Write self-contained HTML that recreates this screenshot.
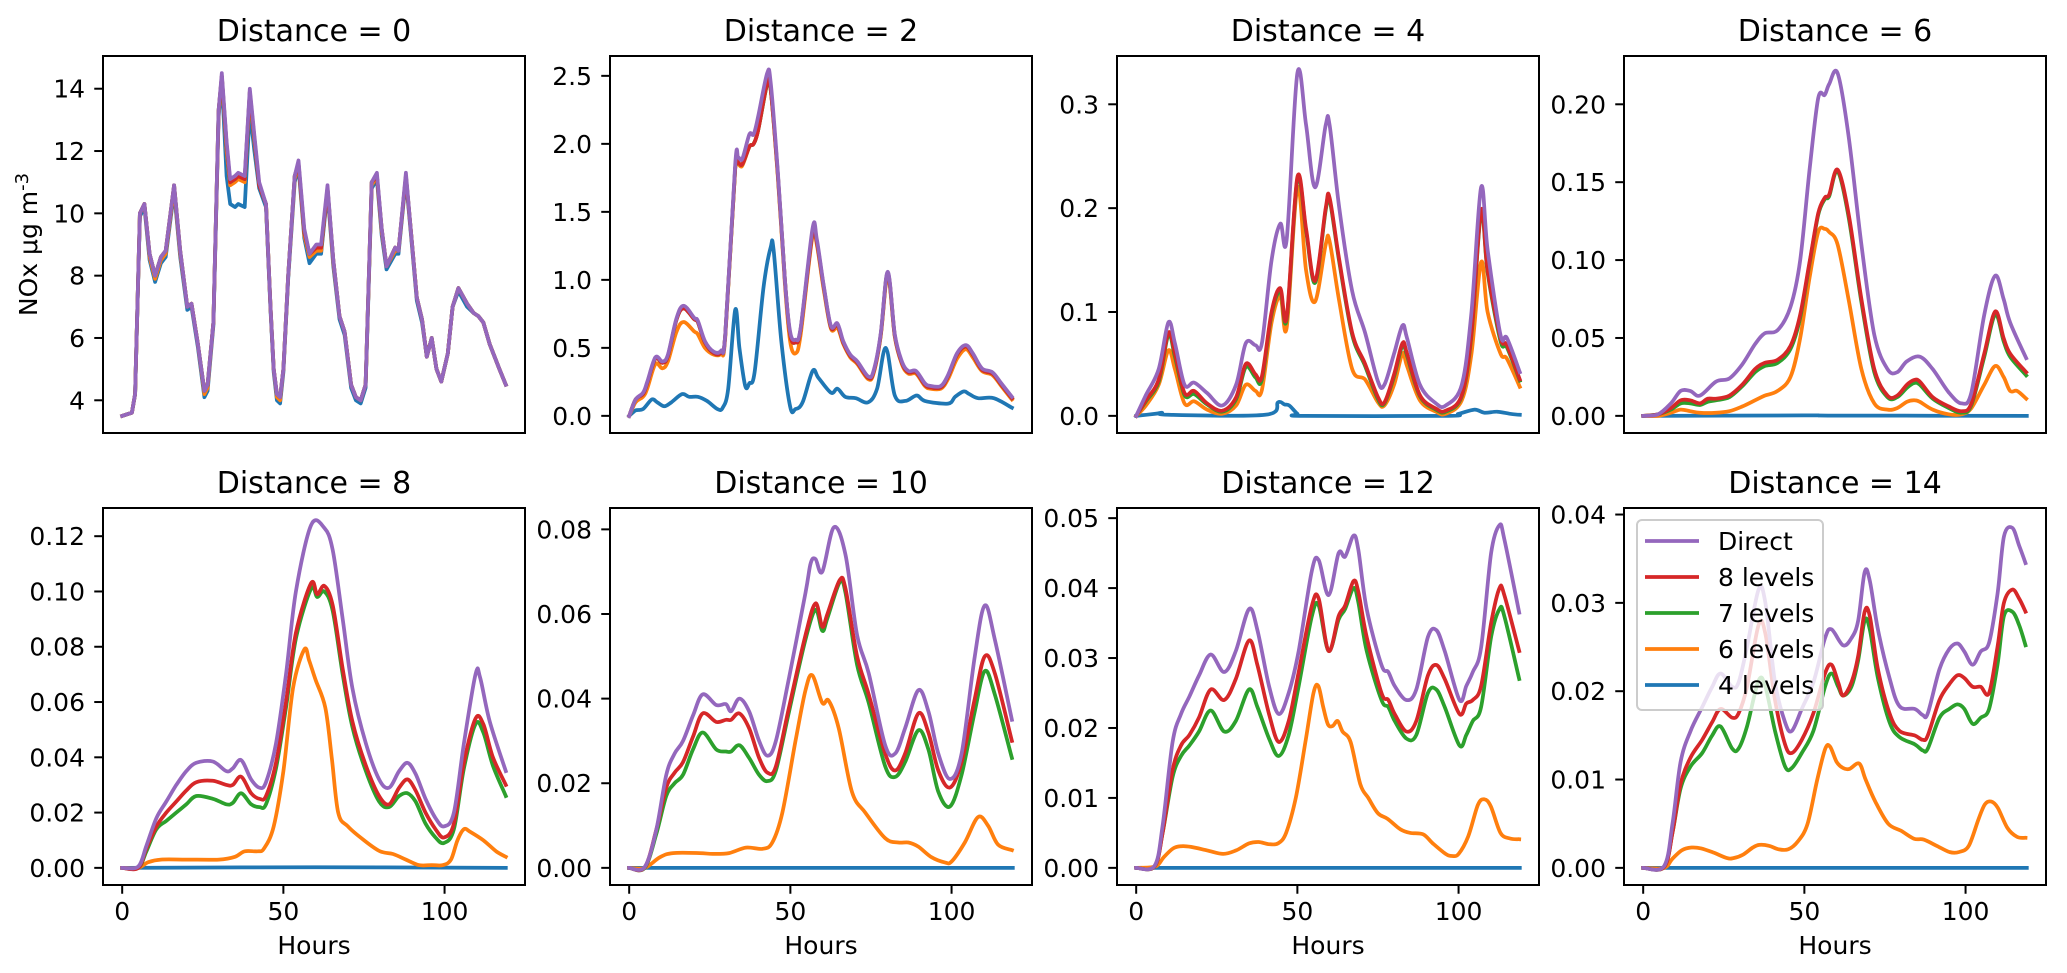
<!DOCTYPE html>
<html><head><meta charset="utf-8">
<style>
html,body{margin:0;padding:0;background:#fff;}
svg{display:block;font-family:"DejaVu Sans","Liberation Sans",sans-serif;}
</style></head>
<body>
<svg id="fig" width="2067" height="973" viewBox="0 0 2067 973" xmlns="http://www.w3.org/2000/svg">
<rect x="0" y="0" width="2067" height="973" fill="#fff"/>
<text transform="translate(37,244.5) rotate(-90)" text-anchor="middle" font-size="25">NOx μg m<tspan dy="-9" font-size="18">-3</tspan></text>
</svg>
<script>
// ---------- data ----------
const panelTitles = ["Distance = 0","Distance = 2","Distance = 4","Distance = 6","Distance = 8","Distance = 10","Distance = 12","Distance = 14"];
const seriesNames = ["Direct","8 levels","7 levels","6 levels","4 levels"];
const yLimits = [[2.95,15.05],[-0.126,2.646],[-0.0165,0.3465],[-0.011,0.231],[-0.0062,0.1302],[-0.00405,0.08505],[-0.00245,0.05145],[-0.00194,0.04074]];
const yTicks = [[4,6,8,10,12,14],[0,0.5,1,1.5,2,2.5],[0,0.1,0.2,0.3],[0,0.05,0.1,0.15,0.2],[0,0.02,0.04,0.06,0.08,0.1,0.12],[0,0.02,0.04,0.06,0.08],[0,0.01,0.02,0.03,0.04,0.05],[0,0.01,0.02,0.03,0.04]];
const yTickLabels = [["4","6","8","10","12","14"],["0.0","0.5","1.0","1.5","2.0","2.5"],["0.0","0.1","0.2","0.3"],["0.00","0.05","0.10","0.15","0.20"],["0.00","0.02","0.04","0.06","0.08","0.10","0.12"],["0.00","0.02","0.04","0.06","0.08"],["0.00","0.01","0.02","0.03","0.04","0.05"],["0.00","0.01","0.02","0.03","0.04"]];
const xTicks = [0,50,100];
const xTickLabels = ["0","50","100"];
const xLimit = [-5.95,124.95];

// Distance 0
const d0_hours = [0,3,4,5.5,6.9,8.5,10.2,12,13.5,16.1,18,20.2,21.5,23.5,25.5,26.5,28.3,29.9,30.9,32.4,33.5,35,36,38,39.6,41,42.5,44.6,46,47,48,49,50,51.5,53.5,54.7,56.5,58.1,60.2,61.7,63.7,65.5,67.4,69,71,72.5,74,75.5,77.4,79,80.5,82,84.7,85.7,88,89.5,91.4,93,94.5,96,97.5,99,101,102.5,104.3,107,109,110.5,112,114,117,119];
const d0_direct = [3.5,3.6,4.2,10.0,10.3,8.7,8.0,8.6,8.8,10.9,8.8,7.0,7.1,5.8,4.3,4.5,6.5,13.3,14.5,12.3,11.1,11.2,11.3,11.2,14.0,12.5,11.0,10.3,7.0,5.0,4.2,4.1,5.0,8.0,11.2,11.7,9.5,8.7,9.0,9.0,10.9,8.5,6.7,6.2,4.5,4.1,4.0,4.5,11.0,11.3,9.5,8.3,8.9,8.8,11.3,9.5,7.3,6.6,5.4,6.0,5.0,4.6,5.5,7.0,7.6,7.1,6.8,6.7,6.5,5.8,5.0,4.5];
const d0_l8 = [3.5,3.6,4.2,10.0,10.3,8.7,8.0,8.6,8.8,10.9,8.8,7.0,7.1,5.8,4.3,4.5,6.5,13.3,14.4,12.2,11.0,11.1,11.2,11.1,13.9,12.4,10.9,10.3,7.0,5.0,4.2,4.1,5.0,8.0,11.2,11.6,9.4,8.7,8.9,8.9,10.8,8.5,6.7,6.2,4.5,4.1,4.0,4.5,11.0,11.2,9.5,8.3,8.9,8.8,11.2,9.5,7.3,6.6,5.4,6.0,5.0,4.6,5.5,7.0,7.6,7.1,6.8,6.7,6.5,5.8,5.0,4.5];
const d0_l7 = [3.5,3.6,4.2,10.0,10.3,8.7,8.0,8.6,8.8,10.9,8.8,7.0,7.1,5.8,4.3,4.5,6.5,13.3,14.4,12.2,11.0,11.1,11.2,11.1,13.9,12.4,10.9,10.3,7.0,5.0,4.2,4.1,5.0,8.0,11.2,11.6,9.4,8.7,8.9,8.9,10.8,8.5,6.7,6.2,4.5,4.1,4.0,4.5,11.0,11.2,9.5,8.3,8.9,8.8,11.2,9.5,7.3,6.6,5.4,6.0,5.0,4.6,5.5,7.0,7.6,7.1,6.8,6.7,6.5,5.8,5.0,4.5];
const d0_l6 = [3.5,3.6,4.2,10.0,10.3,8.6,7.9,8.5,8.7,10.8,8.7,7.0,7.1,5.8,4.2,4.4,6.5,13.2,14.4,12.0,10.9,11.0,11.1,11.0,13.8,12.3,10.9,10.3,7.0,5.0,4.1,4.0,5.0,8.0,11.1,11.6,9.3,8.6,8.8,8.8,10.8,8.4,6.7,6.2,4.5,4.1,4.0,4.5,10.9,11.2,9.4,8.3,8.8,8.8,11.2,9.5,7.3,6.6,5.4,6.0,5.0,4.6,5.5,7.0,7.6,7.1,6.8,6.7,6.5,5.8,5.0,4.5];
const d0_l4 = [3.5,3.6,4.2,9.9,10.2,8.5,7.8,8.4,8.6,10.7,8.6,6.9,7.0,5.7,4.1,4.3,6.4,13.1,14.3,11.2,10.3,10.2,10.3,10.2,13.3,12.0,10.8,10.2,6.9,4.9,4.0,3.9,4.9,7.9,11.0,11.5,9.2,8.4,8.7,8.7,10.7,8.3,6.6,6.1,4.4,4.0,3.9,4.4,10.8,11.1,9.3,8.2,8.7,8.7,11.1,9.4,7.2,6.5,5.4,6.0,5.0,4.6,5.5,7.0,7.5,7.0,6.8,6.7,6.5,5.8,5.0,4.5];

// Distance 2
const d2_direct = [[0,0],[2,0.12],[4.3,0.17],[5.6,0.25],[8.1,0.43],[10.3,0.40],[12,0.45],[14.7,0.72],[16.9,0.81],[20.2,0.72],[21.3,0.70],[23.5,0.55],[26.3,0.47],[28.5,0.48],[29.8,0.6],[32.9,1.85],[33.8,1.9],[35.1,1.89],[37.3,2.07],[38.6,2.07],[40,2.2],[42.8,2.52],[43.9,2.45],[46.1,1.8],[48.3,1.0],[49.9,0.62],[51.6,0.56],[53.2,0.65],[56.9,1.38],[58.2,1.3],[60.4,0.95],[62.6,0.66],[64.6,0.68],[66.4,0.55],[68.6,0.45],[70.8,0.4],[74.1,0.29],[75.8,0.33],[78,0.6],[80.2,1.06],[82.4,0.6],[84.6,0.4],[86.6,0.33],[89,0.33],[91.7,0.24],[93.4,0.22],[96.7,0.22],[98.9,0.3],[101.7,0.46],[104.4,0.52],[106.6,0.46],[109.4,0.35],[112.7,0.32],[115.4,0.24],[118.7,0.14]];
const d2_l8 = [[0,0],[2,0.12],[4.3,0.16],[5.6,0.24],[8.1,0.42],[10.3,0.39],[12,0.44],[14.7,0.71],[16.9,0.79],[20.2,0.71],[21.3,0.69],[23.5,0.54],[26.3,0.46],[28.5,0.47],[29.8,0.6],[32.9,1.82],[33.8,1.86],[35.1,1.85],[37.3,1.98],[38.6,2.0],[40,2.1],[42.8,2.45],[43.9,2.4],[46.1,1.78],[48.3,1.0],[49.9,0.6],[51.6,0.54],[53.2,0.64],[56.9,1.35],[58.2,1.28],[60.4,0.94],[62.6,0.65],[64.6,0.67],[66.4,0.54],[68.6,0.44],[70.8,0.39],[74.1,0.28],[75.8,0.32],[78,0.59],[80.2,1.05],[82.4,0.59],[84.6,0.39],[86.6,0.32],[89,0.32],[91.7,0.23],[93.4,0.21],[96.7,0.21],[98.9,0.29],[101.7,0.45],[104.4,0.51],[106.6,0.45],[109.4,0.34],[112.7,0.31],[115.4,0.23],[118.7,0.13]];
const d2_l7 = [[0,0],[2,0.12],[4.3,0.16],[5.6,0.24],[8.1,0.42],[10.3,0.39],[12,0.44],[14.7,0.71],[16.9,0.79],[20.2,0.71],[21.3,0.69],[23.5,0.54],[26.3,0.46],[28.5,0.47],[29.8,0.6],[32.9,1.82],[33.8,1.86],[35.1,1.85],[37.3,1.98],[38.6,2.0],[40,2.1],[42.8,2.44],[43.9,2.4],[46.1,1.78],[48.3,1.0],[49.9,0.6],[51.6,0.54],[53.2,0.64],[56.9,1.35],[58.2,1.28],[60.4,0.94],[62.6,0.65],[64.6,0.67],[66.4,0.54],[68.6,0.44],[70.8,0.39],[74.1,0.28],[75.8,0.32],[78,0.59],[80.2,1.05],[82.4,0.59],[84.6,0.39],[86.6,0.32],[89,0.32],[91.7,0.23],[93.4,0.21],[96.7,0.21],[98.9,0.29],[101.7,0.45],[104.4,0.51],[106.6,0.45],[109.4,0.34],[112.7,0.31],[115.4,0.23],[118.7,0.13]];
const d2_l6 = [[0,0],[2,0.1],[4.3,0.14],[5.6,0.2],[8.1,0.38],[10.3,0.35],[12,0.4],[14.7,0.62],[16.9,0.69],[20.2,0.62],[21.3,0.60],[23.5,0.5],[26.3,0.45],[28.5,0.46],[29.8,0.58],[32.9,1.82],[33.8,1.85],[35.1,1.84],[37.3,1.98],[38.6,2.0],[40,2.1],[42.8,2.44],[43.9,2.4],[46.1,1.76],[48.3,0.97],[49.9,0.55],[51.6,0.46],[53.2,0.6],[56.9,1.33],[58.2,1.26],[60.4,0.92],[62.6,0.64],[64.6,0.65],[66.4,0.53],[68.6,0.43],[70.8,0.38],[74.1,0.27],[75.8,0.31],[78,0.58],[80.2,1.03],[82.4,0.58],[84.6,0.38],[86.6,0.31],[89,0.31],[91.7,0.22],[93.4,0.2],[96.7,0.2],[98.9,0.27],[101.7,0.42],[104.4,0.49],[106.6,0.43],[109.4,0.33],[112.7,0.3],[115.4,0.22],[118.7,0.12]];
const d2_l4 = [[0,0],[2,0.04],[4.3,0.05],[7,0.12],[8.7,0.1],[10.9,0.07],[13.1,0.1],[16.4,0.16],[18.6,0.14],[21.3,0.14],[24.1,0.11],[27.4,0.05],[29,0.06],[30.7,0.2],[32.9,0.78],[34.2,0.5],[36,0.22],[37.3,0.24],[38.9,0.32],[41.7,0.95],[43.9,1.24],[44.8,1.22],[47.2,0.55],[49.9,0.07],[51.6,0.05],[53.8,0.1],[56.9,0.33],[58.7,0.28],[62.6,0.17],[64.6,0.2],[67,0.14],[70.3,0.13],[74.1,0.1],[76.9,0.2],[79.6,0.5],[82.4,0.15],[85.7,0.11],[89.2,0.15],[91.7,0.11],[98.9,0.09],[101.1,0.14],[103.8,0.18],[105.5,0.16],[108.2,0.13],[113.1,0.13],[118.7,0.06]];

// Distance 4
const d4_direct = [[0,0],[3,0.02],[7,0.045],[10,0.09],[12,0.07],[15,0.03],[18,0.032],[22,0.022],[26.7,0.01],[31,0.03],[34,0.07],[37,0.068],[39,0.07],[42,0.15],[44.7,0.185],[46.7,0.17],[50,0.33],[52.7,0.28],[55.5,0.22],[58.8,0.28],[60,0.28],[63,0.2],[67,0.12],[71,0.08],[75,0.033],[77,0.03],[80,0.06],[82.6,0.087],[84,0.075],[88,0.03],[93,0.012],[96,0.01],[101,0.03],[104,0.1],[107,0.22],[109,0.16],[113,0.078],[115,0.075],[119,0.042]];
const d4_l8 = [[0,0],[3,0.015],[7,0.035],[10,0.08],[12,0.06],[15,0.022],[18,0.024],[22,0.012],[26.7,0.005],[31,0.018],[34,0.05],[37,0.04],[39,0.038],[42,0.1],[44.7,0.123],[46.7,0.095],[50,0.23],[52.7,0.18],[55.5,0.13],[58.8,0.2],[60,0.21],[63,0.15],[67,0.08],[71,0.05],[75,0.018],[77,0.013],[80,0.04],[82.6,0.07],[84,0.06],[88,0.02],[93,0.007],[96,0.005],[101,0.02],[104,0.08],[107,0.198],[109,0.14],[113,0.075],[115,0.068],[119,0.035]];
const d4_l7 = [[0,0],[3,0.014],[7,0.033],[10,0.078],[12,0.057],[15,0.02],[18,0.021],[22,0.011],[26.7,0.004],[31,0.016],[34,0.047],[37,0.037],[39,0.035],[42,0.098],[44.7,0.12],[46.7,0.093],[50,0.228],[52.7,0.178],[55.5,0.128],[58.8,0.198],[60,0.208],[63,0.148],[67,0.078],[71,0.048],[75,0.016],[77,0.012],[80,0.038],[82.6,0.068],[84,0.058],[88,0.019],[93,0.006],[96,0.004],[101,0.019],[104,0.078],[107,0.196],[109,0.138],[113,0.072],[115,0.066],[119,0.034]];
const d4_l6 = [[0,0],[3,0.01],[7,0.03],[10,0.063],[12,0.045],[15,0.012],[18,0.014],[22,0.006],[26.7,0.002],[31,0.01],[34,0.03],[37,0.024],[39,0.025],[42,0.09],[44.7,0.115],[46.7,0.085],[50,0.22],[52.7,0.14],[55.5,0.11],[58.8,0.165],[60,0.168],[63,0.11],[67,0.045],[71,0.035],[75,0.013],[77,0.01],[80,0.03],[82.6,0.06],[84,0.048],[88,0.015],[93,0.004],[96,0.002],[101,0.015],[104,0.06],[107,0.148],[109,0.1],[113,0.06],[115,0.055],[119,0.028]];
const d4_l4 = [[0,0],[6,0.002],[8,0.003],[10,0.001],[40,0.001],[44,0.013],[46,0.011],[47.5,0.01],[50,0.002],[52,0],[96,0],[100,0.002],[105,0.006],[108,0.003],[112,0.004],[116,0.002],[119,0.001]];

// Distance 6
const d6_direct = [[0,0],[4.6,0.001],[8.6,0.008],[11.6,0.016],[14.6,0.016],[17.6,0.013],[22.6,0.022],[26.7,0.024],[30.7,0.033],[34.7,0.046],[37.7,0.053],[41.7,0.055],[45.7,0.07],[48.7,0.1],[51.7,0.16],[54.3,0.204],[56.3,0.206],[57.7,0.213],[60.3,0.22],[63.7,0.18],[67.7,0.11],[71.7,0.052],[75.8,0.03],[78.8,0.028],[81.8,0.035],[85.8,0.038],[89.8,0.03],[94.8,0.015],[98.8,0.008],[101.8,0.015],[105.8,0.065],[109.2,0.09],[111.8,0.075],[113.8,0.06],[118.8,0.037]];
const d6_l8 = [[0,0],[4.6,0.001],[8.6,0.005],[11.6,0.01],[14.6,0.01],[17.6,0.008],[20,0.011],[22.6,0.011],[26.7,0.013],[30.7,0.02],[34.7,0.03],[37.7,0.034],[41.7,0.036],[45.7,0.045],[48.7,0.065],[51.7,0.1],[54.3,0.13],[56.3,0.14],[57.7,0.142],[60.3,0.158],[63.7,0.13],[67.7,0.075],[71.7,0.03],[75.8,0.013],[78.8,0.013],[81.8,0.02],[84,0.023],[85.8,0.022],[89.8,0.012],[94.8,0.006],[98.8,0.003],[101.8,0.008],[105.8,0.04],[109.2,0.067],[111.8,0.05],[113.8,0.04],[118.8,0.028]];
const d6_l7 = [[0,0],[4.6,0.001],[8.6,0.004],[11.6,0.008],[14.6,0.008],[17.6,0.007],[20,0.009],[22.6,0.01],[26.7,0.012],[30.7,0.019],[34.7,0.028],[37.7,0.032],[41.7,0.034],[45.7,0.043],[48.7,0.063],[51.7,0.099],[54.3,0.129],[56.3,0.139],[57.7,0.141],[60.3,0.157],[63.7,0.128],[67.7,0.073],[71.7,0.028],[75.8,0.012],[78.8,0.012],[81.8,0.018],[84,0.021],[85.8,0.02],[89.8,0.011],[94.8,0.005],[98.8,0.002],[101.8,0.007],[105.8,0.038],[109.2,0.065],[111.8,0.048],[113.8,0.038],[118.8,0.026]];
const d6_l6 = [[0,0],[4.6,0],[8.6,0.002],[11.6,0.004],[14.6,0.003],[17.6,0.002],[22.6,0.002],[26.7,0.003],[30.7,0.006],[34.7,0.01],[37.7,0.013],[41.7,0.016],[45.7,0.025],[48.7,0.05],[51.7,0.09],[54.3,0.118],[56.3,0.12],[57.7,0.118],[60.3,0.11],[63.7,0.075],[67.7,0.03],[71.7,0.008],[75.8,0.004],[78.8,0.005],[81.8,0.009],[84,0.01],[85.8,0.009],[89.8,0.004],[94.8,0.001],[98.8,0.001],[101.8,0.005],[105.8,0.02],[109.2,0.032],[111.8,0.025],[113.8,0.016],[116,0.016],[118.8,0.011]];
const d6_l4 = [[0,0],[50,0.0003],[60,0.0002],[119,0]];

// Distance 8
const d8_direct = [[0,0],[5,0.0005],[7.5,0.008],[10.6,0.018],[13.7,0.024],[16.8,0.03],[19.9,0.035],[23,0.038],[28.1,0.0385],[32.3,0.035],[34.3,0.036],[36.9,0.039],[40,0.032],[42.6,0.029],[44.6,0.031],[47.7,0.045],[50.8,0.07],[53.9,0.1],[58.6,0.124],[62.7,0.123],[65.3,0.115],[68.4,0.09],[71.4,0.065],[75.6,0.045],[79.7,0.032],[82.8,0.029],[85.9,0.035],[88.5,0.038],[91,0.034],[94.1,0.025],[97.2,0.018],[99.8,0.015],[102.9,0.02],[106,0.045],[109.6,0.07],[111,0.069],[114,0.053],[119,0.035]];
const d8_l8 = [[0,0],[5,0],[7.5,0.007],[10.6,0.015],[13.7,0.02],[16.8,0.024],[19.9,0.028],[23,0.031],[28.1,0.0315],[32.3,0.03],[34.3,0.03],[36.9,0.033],[40,0.027],[42.6,0.025],[44.6,0.026],[47.7,0.038],[50.8,0.06],[53.9,0.085],[58.6,0.103],[60.5,0.099],[62.7,0.102],[65.3,0.095],[68.4,0.072],[71.4,0.053],[75.6,0.037],[79.7,0.026],[82.8,0.023],[85.9,0.029],[88.5,0.032],[91,0.028],[94.1,0.02],[97.2,0.014],[99.8,0.011],[102.9,0.016],[106,0.038],[109.6,0.054],[112,0.052],[115,0.04],[119,0.03]];
const d8_l7 = [[0,0],[5,0],[7.5,0.006],[10.6,0.014],[13.7,0.017],[16.8,0.02],[19.9,0.023],[23,0.026],[28.1,0.025],[32.3,0.023],[34.3,0.0235],[36.9,0.027],[40,0.023],[42.6,0.022],[44.6,0.023],[47.7,0.036],[50.8,0.058],[53.9,0.083],[58.6,0.101],[60.5,0.098],[62.7,0.1],[65.3,0.093],[68.4,0.07],[71.4,0.051],[75.6,0.035],[79.7,0.024],[82.8,0.022],[85.9,0.026],[88.5,0.027],[91,0.024],[94.1,0.016],[97.2,0.011],[99.8,0.009],[102.9,0.014],[106,0.036],[109.6,0.052],[112,0.049],[115,0.037],[119,0.026]];
const d8_l6 = [[0,0],[5,0],[8,0.002],[12,0.003],[20,0.003],[30,0.003],[35,0.004],[38,0.006],[42,0.006],[44,0.007],[47,0.015],[50,0.035],[53,0.065],[56.5,0.079],[58,0.075],[60,0.068],[63,0.058],[65,0.04],[67,0.02],[70,0.015],[75,0.01],[80,0.006],[84,0.005],[88,0.003],[92,0.001],[96,0.001],[99.5,0.001],[102,0.003],[104,0.01],[106,0.014],[108,0.013],[112,0.01],[116,0.006],[119,0.004]];
const d8_l4 = [[0,0],[60,0.0002],[119,0]];

// Distance 10
const d10_direct = [[0,0],[4.8,0.0002],[8.4,0.009],[11.5,0.022],[14.1,0.027],[16.7,0.03],[19.8,0.036],[22.8,0.041],[27,0.0385],[30,0.0387],[31.6,0.037],[34.2,0.04],[37.2,0.037],[40.3,0.03],[42.9,0.0265],[45.5,0.03],[49.6,0.045],[54.7,0.065],[56.3,0.072],[57.8,0.073],[59.9,0.07],[63.5,0.0805],[67.1,0.074],[70.7,0.055],[74.3,0.046],[79.4,0.029],[82.5,0.027],[85.6,0.033],[89.7,0.042],[92.8,0.037],[95.9,0.027],[99.5,0.021],[103.1,0.027],[107.2,0.05],[110.3,0.062],[113.4,0.054],[118.7,0.035]];
const d10_l8 = [[0,0],[4.8,0.0001],[8.4,0.009],[11.5,0.019],[14.1,0.0225],[16.7,0.025],[19.8,0.031],[22.8,0.0365],[27,0.0345],[30,0.035],[31.6,0.035],[34.2,0.0365],[37.2,0.033],[40.3,0.026],[42.9,0.0225],[45.5,0.024],[49.6,0.038],[54.7,0.055],[57.8,0.0625],[59.9,0.057],[61.5,0.06],[65.3,0.068],[67.1,0.066],[70.7,0.05],[74.3,0.041],[79.4,0.027],[82.5,0.023],[85.6,0.027],[89.7,0.0365],[92.8,0.032],[95.9,0.023],[99.5,0.019],[103.1,0.025],[107.2,0.04],[110.3,0.05],[113.4,0.046],[118.7,0.03]];
const d10_l7 = [[0,0],[4.8,0],[8.4,0.008],[11.5,0.017],[14.1,0.02],[16.7,0.022],[19.8,0.028],[22.8,0.032],[27,0.028],[30,0.0275],[31.6,0.0275],[34.2,0.029],[37.2,0.026],[40.3,0.022],[42.9,0.0205],[45.5,0.023],[49.6,0.037],[54.7,0.054],[57.8,0.061],[59.9,0.056],[61.5,0.059],[65.3,0.0675],[67.1,0.065],[70.7,0.048],[74.3,0.039],[79.4,0.024],[82.5,0.0215],[85.6,0.025],[89.7,0.0325],[92.8,0.028],[95.9,0.018],[99.5,0.0145],[103.1,0.022],[107.2,0.037],[110.3,0.0465],[113.4,0.041],[118.7,0.026]];
const d10_l6 = [[0,0],[4.8,0],[9.5,0.0025],[13.6,0.0035],[21.8,0.0035],[25.9,0.0033],[31,0.0035],[36.2,0.0048],[41.4,0.0045],[44.4,0.006],[47.5,0.013],[51.6,0.03],[54.7,0.042],[56.8,0.0455],[59.9,0.039],[61.9,0.0395],[65,0.033],[69.1,0.018],[73.3,0.013],[79.4,0.007],[83.5,0.006],[86.6,0.006],[89.7,0.005],[93.8,0.0025],[97.9,0.0013],[100,0.0015],[104.1,0.006],[108.2,0.012],[111.3,0.01],[114.4,0.0055],[118.7,0.0042]];
const d10_l4 = [[0,0],[119,0]];

// Distance 12
const d12_direct = [[0,0],[5.7,0.0003],[8.2,0.006],[11.3,0.018],[13.9,0.022],[16.5,0.0245],[19.5,0.0275],[23.1,0.0305],[27.3,0.028],[30.9,0.031],[35,0.037],[37.6,0.034],[41.2,0.026],[44.2,0.022],[47.3,0.025],[50.4,0.031],[54.5,0.0425],[56.6,0.044],[59.7,0.039],[62.8,0.045],[64.8,0.0445],[67.4,0.0475],[68.9,0.0455],[71.5,0.037],[76.1,0.029],[78.2,0.028],[80.2,0.026],[83.8,0.024],[86.9,0.0255],[90.5,0.033],[93.1,0.034],[95.7,0.031],[100.3,0.024],[102.4,0.026],[104.4,0.028],[107,0.0315],[110.1,0.045],[112.7,0.049],[114.2,0.047],[118.8,0.0365]];
const d12_l8 = [[0,0],[5.7,0.0002],[8.2,0.005],[11.3,0.014],[13.9,0.0175],[16.5,0.019],[19.5,0.0215],[23.1,0.0255],[27.3,0.024],[30.9,0.027],[35,0.0325],[37.6,0.029],[41.2,0.022],[44.2,0.018],[47.3,0.021],[50.4,0.028],[54.5,0.0375],[56.6,0.0385],[59.7,0.031],[62.8,0.036],[64.8,0.0375],[67.4,0.041],[68.9,0.0395],[71.5,0.033],[76.1,0.025],[78.2,0.024],[80.2,0.022],[83.8,0.0195],[86.9,0.021],[90.5,0.0275],[93.1,0.029],[95.7,0.027],[100.3,0.022],[102.4,0.0235],[104.4,0.024],[107,0.026],[110.1,0.035],[112.7,0.04],[114.2,0.039],[118.8,0.031]];
const d12_l7 = [[0,0],[5.7,0.0002],[8.2,0.005],[11.3,0.013],[13.9,0.016],[16.5,0.0175],[19.5,0.0195],[23.1,0.0225],[27.3,0.0195],[30.9,0.021],[35,0.0255],[37.6,0.023],[41.2,0.0185],[44.2,0.016],[47.3,0.019],[50.4,0.026],[54.5,0.036],[56.6,0.0375],[59.7,0.031],[62.8,0.0355],[64.8,0.037],[67.4,0.04],[68.9,0.038],[71.5,0.031],[76.1,0.024],[78.2,0.023],[80.2,0.021],[83.8,0.0185],[86.9,0.019],[90.5,0.025],[93.1,0.0255],[95.7,0.023],[100.3,0.0175],[102.4,0.019],[104.4,0.021],[107,0.023],[110.1,0.033],[112.7,0.037],[114.2,0.036],[118.8,0.027]];
const d12_l6 = [[0,0],[6,0.0002],[8.5,0.0015],[11.5,0.0028],[14,0.0031],[17,0.003],[22,0.0025],[27,0.002],[31,0.0025],[35,0.0035],[38,0.0037],[41,0.0034],[44,0.0035],[46.5,0.005],[49.5,0.01],[52.5,0.018],[55,0.025],[56.5,0.026],[58,0.023],[59.5,0.0205],[61,0.0203],[62.5,0.021],[64,0.0195],[66.5,0.018],[69.5,0.012],[72,0.01],[75,0.0078],[78,0.007],[82,0.0055],[85,0.005],[89,0.0048],[92,0.0035],[96,0.002],[98,0.0017],[100,0.002],[103,0.0045],[106,0.009],[108,0.0098],[110,0.0088],[113,0.005],[116,0.0042],[118.8,0.0041]];
const d12_l4 = [[0,0],[119,0]];

// Distance 14
const d14_direct = [[0,0],[6.5,0.0002],[9.1,0.005],[11.6,0.012],[14.7,0.0155],[18.3,0.0182],[21.4,0.0205],[24,0.022],[27.6,0.0205],[29.6,0.021],[32.2,0.025],[35.8,0.0315],[37.9,0.03],[40.9,0.021],[44,0.0165],[46.1,0.0155],[49.2,0.018],[52.8,0.021],[56.4,0.026],[58.4,0.027],[62,0.0252],[64.6,0.026],[66.7,0.028],[68.7,0.0335],[70.3,0.0325],[72.8,0.027],[76.4,0.0215],[79.5,0.0183],[84.2,0.018],[86.7,0.0173],[88.3,0.0175],[91.9,0.0225],[95,0.0248],[97.5,0.0254],[99.6,0.0245],[102.2,0.023],[104.7,0.0245],[107.3,0.0255],[109.9,0.031],[111.9,0.0375],[114.5,0.0385],[116.6,0.0365],[118.6,0.0345]];
const d14_l8 = [[0,0],[6.5,0.0001],[9.1,0.004],[11.6,0.0095],[14.7,0.0125],[18.3,0.0145],[21.4,0.0165],[24,0.018],[27.6,0.017],[29.6,0.0175],[32.2,0.0205],[35.8,0.0275],[37.9,0.0265],[40.9,0.019],[44,0.014],[46.1,0.013],[49.2,0.0145],[52.8,0.0175],[56.4,0.022],[58.4,0.023],[60.5,0.021],[62,0.0195],[64.6,0.021],[66.7,0.024],[68.7,0.029],[70.3,0.0285],[72.8,0.0225],[76.4,0.0175],[79.5,0.0155],[84.2,0.015],[86.7,0.0145],[88.3,0.015],[91.9,0.019],[95,0.0208],[97.5,0.0218],[99.6,0.0215],[102.2,0.0205],[104.7,0.0205],[107.3,0.0198],[109.9,0.025],[111.9,0.03],[114.5,0.0315],[116.6,0.0305],[118.6,0.029]];
const d14_l7 = [[0,0],[6.5,0.0001],[9.1,0.004],[11.6,0.009],[14.7,0.0115],[18.3,0.013],[21.4,0.015],[24,0.016],[27.6,0.0135],[29.6,0.0135],[32.2,0.016],[35.8,0.0212],[37.9,0.0205],[40.9,0.0155],[44,0.0115],[46.1,0.0113],[49.2,0.013],[52.8,0.0155],[56.4,0.0205],[58.4,0.022],[60.5,0.0205],[62,0.0195],[64.6,0.0205],[66.7,0.0235],[68.7,0.028],[70.3,0.027],[72.8,0.0215],[76.4,0.0165],[79.5,0.0148],[84.2,0.014],[86.7,0.0133],[88.3,0.0135],[91.9,0.017],[95,0.018],[97.5,0.0185],[99.6,0.018],[102.2,0.0163],[104.7,0.017],[107.3,0.018],[109.9,0.023],[111.9,0.0285],[114.5,0.029],[116.6,0.0275],[118.6,0.0252]];
const d14_l6 = [[0,0],[6.5,0],[9,0.001],[12,0.002],[15,0.0023],[18,0.0022],[22,0.0017],[26,0.0011],[28,0.0011],[31,0.0015],[34,0.0023],[36,0.0026],[39,0.0025],[42,0.0021],[45,0.0021],[48,0.003],[51,0.005],[54,0.01],[56.5,0.0135],[58,0.0137],[60,0.012],[62,0.0113],[64,0.0112],[67,0.0118],[69,0.01],[72,0.0075],[76,0.005],[80,0.0042],[84,0.0033],[87,0.0032],[91,0.0025],[95,0.0018],[98,0.0018],[101,0.0025],[104,0.0055],[106,0.0072],[108,0.0075],[110,0.0068],[113,0.0045],[116,0.0035],[118.6,0.0034]];
const d14_l4 = [[0,0],[119,0]];

// ---------- layout ----------
const panelLeft = [103,610,1117,1624];
const panelTop = [56,508];
const PW = 422, PH = 377;
const colors = ["#9467bd","#d62728","#2ca02c","#ff7f0e","#1f77b4"];

function zip(h, v){ const n=Math.min(h.length,v.length); const o=[]; for(let i=0;i<n;i++) o.push([h[i],v[i]]); return o; }
const panelSeries = [
  [zip(d0_hours,d0_direct),zip(d0_hours,d0_l8),zip(d0_hours,d0_l7),zip(d0_hours,d0_l6),zip(d0_hours,d0_l4)],
  [d2_direct,d2_l8,d2_l7,d2_l6,d2_l4],
  [d4_direct,d4_l8,d4_l7,d4_l6,d4_l4],
  [d6_direct,d6_l8,d6_l7,d6_l6,d6_l4],
  [d8_direct,d8_l8,d8_l7,d8_l6,d8_l4],
  [d10_direct,d10_l8,d10_l7,d10_l6,d10_l4],
  [d12_direct,d12_l8,d12_l7,d12_l6,d12_l4],
  [d14_direct,d14_l8,d14_l7,d14_l6,d14_l4]
];

const NS = "http://www.w3.org/2000/svg";
const svg = document.getElementById('fig');
function mk(tag, attrs, parent){ const e=document.createElementNS(NS,tag); for(const k in attrs) e.setAttribute(k,attrs[k]); (parent||svg).appendChild(e); return e; }

function pathFrom(P, smooth){
  if (!P.length) return '';
  let d = 'M' + P[0][0].toFixed(1) + ',' + P[0][1].toFixed(1);
  for (let i = 1; i < P.length; i++) {
    if (!smooth) { d += ' L' + P[i][0].toFixed(1) + ',' + P[i][1].toFixed(1); continue; }
    const p0 = P[i-2] || P[i-1], p1 = P[i-1], p2 = P[i], p3 = P[i+1] || P[i];
    const c1x = p1[0] + (p2[0]-p0[0])/6, c1y = p1[1] + (p2[1]-p0[1])/6;
    const c2x = p2[0] - (p3[0]-p1[0])/6, c2y = p2[1] - (p3[1]-p1[1])/6;
    d += ' C' + c1x.toFixed(1) + ',' + c1y.toFixed(1) + ' ' + c2x.toFixed(1) + ',' + c2y.toFixed(1) + ' ' + p2[0].toFixed(1) + ',' + p2[1].toFixed(1);
  }
  return d;
}

for (let p = 0; p < 8; p++) {
  const row = Math.floor(p/4), col = p%4;
  const L = panelLeft[col], T = panelTop[row];
  const yl = yLimits[p];
  const xs = v => L + (v - xLimit[0]) / (xLimit[1]-xLimit[0]) * PW;
  const ys = v => T + PH - (v - yl[0]) / (yl[1]-yl[0]) * PH;
  const g = mk('g', {});
  
  

  const clipId = 'clip' + p;
  const cp = mk('clipPath', {id: clipId}, g);
  mk('rect', {x:L, y:T, width:PW, height:PH}, cp);

  const title = mk('text', {x: L+PW/2, y: T-15, 'text-anchor':'middle', 'font-size':'30', fill:'#000'}, g);
  title.textContent = panelTitles[p];
  
  

  for (let s = 4; s >= 0; s--) {
    const P = panelSeries[p][s].map(d => [xs(d[0]), ys(d[1])]);
    const pl = mk('path', {d: pathFrom(P, p > 0), fill:'none', stroke: colors[s], 'stroke-width':'3.75', 'stroke-linejoin':'round', 'stroke-linecap':'square', 'clip-path':'url(#'+clipId+')'}, g);
    
    
  }

  yTicks[p].forEach((t, i) => {
    const y = ys(t);
    const tk = mk('line', {x1:L-8.75, x2:L, y1:y, y2:y, stroke:'#000', 'stroke-width':'2'}, g);
    
    
    const lb = mk('text', {x: L-18, y: y+9, 'text-anchor':'end', 'font-size':'25', fill:'#000'}, g);
    lb.textContent = yTickLabels[p][i];
    
    
  });

  if (row === 1) {
    xTicks.forEach((t, i) => {
      const x = xs(t);
      const tk = mk('line', {x1:x, x2:x, y1:T+PH, y2:T+PH+8.75, stroke:'#000', 'stroke-width':'2'}, g);
      
      
      const lb = mk('text', {x: x, y: T+PH+35, 'text-anchor':'middle', 'font-size':'25', fill:'#000'}, g);
      lb.textContent = xTickLabels[i];
      
      
    });
    const xt = mk('text', {x: L+PW/2, y: 954, 'text-anchor':'middle', 'font-size':'25', fill:'#000'}, g);
    xt.textContent = 'Hours';
    
    
  }

  const frame = mk('rect', {x:L, y:T, width:PW, height:PH, fill:'none', stroke:'#000', 'stroke-width':'2'}, g);
  
  
}

const lg = mk('g', {});


mk('rect', {x:1637, y:520, width:186, height:190, rx:5, ry:5, fill:'#fff', 'fill-opacity':'0.8', stroke:'#ccc', 'stroke-width':'2'}, lg);
const legendY = [541,577,613,649,685];
seriesNames.forEach((n, i) => {
  const e = mk('g', {}, lg);
  
  
  mk('line', {x1:1645, x2:1699, y1:legendY[i], y2:legendY[i], stroke:colors[i], 'stroke-width':'3.75'}, e);
  const t = mk('text', {x:1718, y:legendY[i]+9, 'font-size':'25', fill:'#000'}, e);
  t.textContent = n;
});
</script>
</body></html>
